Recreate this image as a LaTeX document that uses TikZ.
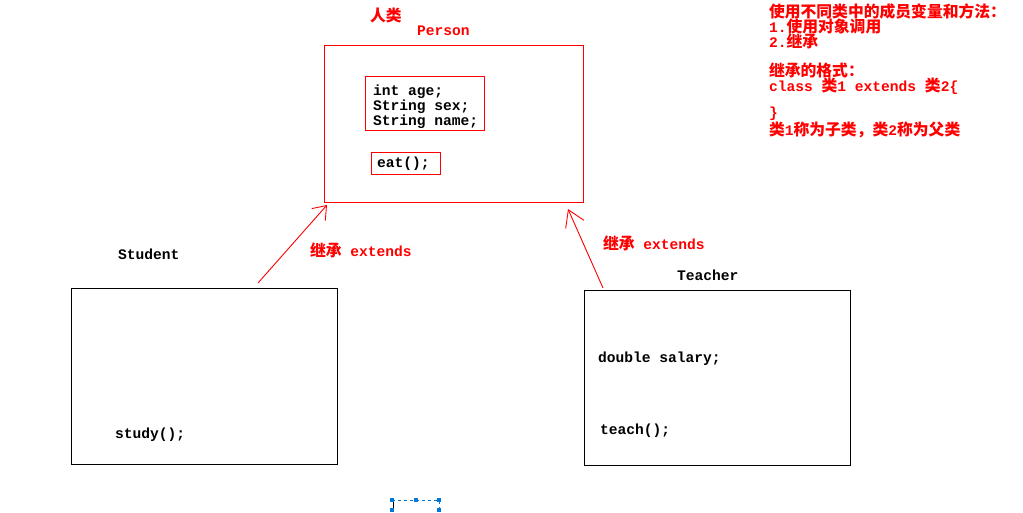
\documentclass[tikz,border=0pt]{standalone}
\usepackage{fontspec}
\setmonofont{Liberation Mono}
\newfontfamily\cjkfont{Noto Sans CJK SC}
\usetikzlibrary{arrows.meta}
\definecolor{selblue}{RGB}{0,120,215}
\newcommand\zhtxt[1]{{\cjkfont\bfseries\fontsize{15.8}{17}\selectfont #1}}
\tikzset{
  txt/.style={inner sep=0pt, outer sep=0pt, anchor=base west, font=\ttfamily\bfseries\fontsize{14.6}{17}\selectfont},
  redtxt/.style={txt, text=red},
  boxr/.style={draw=red, line width=1pt, inner sep=0pt, outer sep=0pt},
  boxk/.style={draw=black, line width=1pt, inner sep=0pt, outer sep=0pt},
  inh/.style={draw=red, line width=0.9pt},
  handle/.style={fill=selblue, draw=none, minimum size=4pt, inner sep=0pt},
}
\begin{document}
\begin{tikzpicture}[x=1pt, y=-1pt]
\useasboundingbox (0,0) rectangle (1023,512);

% Person
\node[redtxt] (renlei) at (370,21.5) {\zhtxt{人类}};
\node[redtxt] (personlbl) at (417,35) {Person};
\node[boxr, minimum width=259pt, minimum height=157pt] (person) at (453.5,123.5) {};
\node[boxr, minimum width=119pt, minimum height=54pt] (fields) at (424.5,103) {};
\node[txt] (f1) at (373,95) {int age;};
\node[txt] (f2) at (373,110) {String sex;};
\node[txt] (f3) at (373,125) {String name;};
\node[boxr, minimum width=69pt, minimum height=22pt] (methods) at (405.5,163) {};
\node[txt] (m1) at (377,167) {eat();};

% Student
\node[txt] (studentlbl) at (118,259) {Student};
\node[boxk, minimum width=266pt, minimum height=176pt] (student) at (204,376) {};
\node[txt] (study) at (115,438) {study();};

% Teacher
\node[txt] (teacherlbl) at (677,280) {Teacher};
\node[boxk, minimum width=266pt, minimum height=175pt] (teacher) at (717,377.5) {};
\node[txt] (salary) at (598,362.5) {double salary;};
\node[txt] (teach) at (600,434) {teach();};

% inheritance arrows
\coordinate (s1) at (258,283);
\coordinate (p1) at (327,205);
\coordinate (t1) at (603,288);
\coordinate (p2) at (568,209);
\draw[inh, -{Straight Barb[length=12pt, width=18pt]}] (s1) -- (p1);
\draw[inh, -{Straight Barb[length=16pt, width=20pt]}] (t1) -- (p2);
\node[redtxt] (ext1) at (310,256) {\zhtxt{继承} extends};
\node[redtxt] (ext2) at (603,249) {\zhtxt{继承} extends};

% notes
\node[redtxt] (n1) at (769,17.5) {\zhtxt{使用不同类中的成员变量和方法：}};
\node[redtxt] (n2) at (769,32.5) {1.\zhtxt{使用对象调用}};
\node[redtxt] (n3) at (769,47.3) {2.\zhtxt{继承}};
\node[redtxt] (n4) at (769,76.3) {\zhtxt{继承的格式：}};
\node[redtxt] (n5) at (769,91) {class \zhtxt{类}1 extends \zhtxt{类}2\{};
\node[redtxt] (n6) at (769,117.5) {\}};
\node[redtxt] (n7) at (769,135.6) {\zhtxt{类}1\zhtxt{称为子类，类}2\zhtxt{称为父类}};

% selection marker
\draw[selblue, dashed, line width=0.8pt] (392,500) -- (439,500) -- (439,512);
\draw[black, line width=1pt] (393.5,502) -- (393.5,511);
\node[handle] (h1) at (392,500) {};
\node[handle] (h2) at (416,500) {};
\node[handle] (h3) at (439,500) {};
\node[handle] (h4) at (392,510) {};
\node[handle] (h5) at (439,510) {};
\end{tikzpicture}
\end{document}
